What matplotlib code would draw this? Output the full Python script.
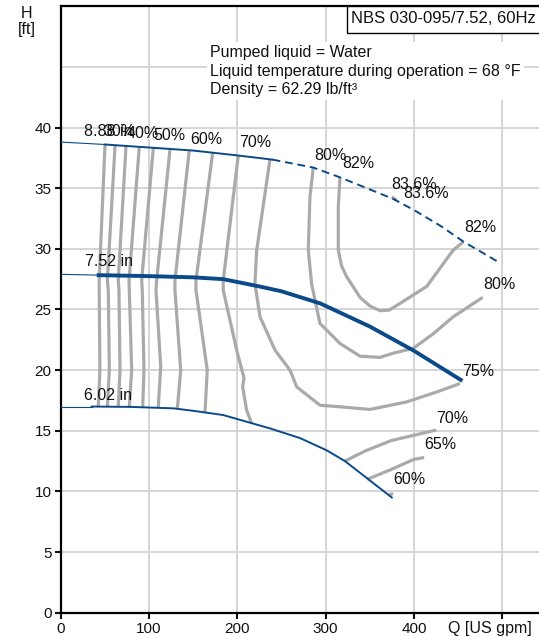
import matplotlib
matplotlib.use('Agg')
import matplotlib.pyplot as plt
from matplotlib.patches import Rectangle

plt.rcParams['font.family'] = ['Liberation Sans', 'DejaVu Sans']

# pump curves (Q in US gpm, H in ft)
q_888_thin = [0, 50]
h_888_thin = [38.8, 38.6]
q_888 = [50, 100, 150, 200, 240]
h_888 = [38.6, 38.35, 38.1, 37.7, 37.35]
q_888_dash = [240, 286, 316, 350, 377, 400, 430, 456, 496]
h_888_dash = [37.35, 36.7, 35.9, 34.9, 34.1, 33.2, 31.9, 30.6, 28.9]

q_752_thin = [0, 43]
h_752_thin = [27.9, 27.83]
q_752 = [43, 100, 150, 184, 225, 250, 294, 350, 400, 453]
h_752 = [27.83, 27.75, 27.65, 27.5, 26.9, 26.5, 25.5, 23.6, 21.6, 19.2]

q_602_thin = [0, 35]
h_602_thin = [17.0, 17.0]
q_602 = [35, 80, 128, 150, 184, 237, 271, 301, 322, 345, 375]
h_602 = [17.0, 16.97, 16.85, 16.65, 16.3, 15.2, 14.4, 13.4, 12.5, 11.2, 9.5]

# iso-efficiency lines
eta_lines = {
    '30': ([50.2, 43.6, 43.6, 44.4, 42.6], [38.6, 27.4, 26.6, 20.0, 17.0]),
    '35': ([61.6, 52.9, 53.9, 55.1, 52.9], [38.55, 27.4, 26.6, 20.0, 17.0]),
    '40': ([74.0, 65.2, 66.0, 67.2, 65.2], [38.5, 27.4, 26.6, 20.0, 17.0]),
    '45': ([89.0, 77.4, 77.7, 80.4, 77.7], [38.4, 27.4, 26.6, 20.0, 16.95]),
    '50': ([104.9, 91.7, 92.4, 94.3, 92.9], [38.3, 27.4, 26.6, 20.0, 16.9]),
    '55': ([123.8, 108.7, 107.9, 113.3, 110.5], [38.2, 27.4, 26.6, 20.3, 16.9]),
    '60': ([145.6, 129.4, 129.4, 135.9, 132.1], [38.1, 27.4, 26.6, 20.0, 16.8]),
    '65': ([172.1, 153.2, 153.2, 166.0, 163.4], [37.9, 27.4, 26.6, 20.0, 16.5]),
    '70': ([201.1, 184.1, 184.1, 199.3, 207.6, 206.1, 210.6, 216.3],
           [37.7, 27.4, 26.6, 21.65, 19.36, 18.6, 16.7, 15.6]),
    '75': ([237.0, 222.0, 220.0, 225.7, 242.7, 259.7, 267.3, 293.6, 316.3, 350.2, 391.8, 425.8, 452.2],
           [37.35, 29.9, 27.14, 24.4, 21.65, 20.0, 18.62, 17.11, 16.98, 16.76, 17.38, 18.2, 18.9]),
    '80': ([286.0, 282.3, 280.4, 284.2, 293.6, 301.2, 316.3, 339.0, 361.6, 376.7, 399.3, 422.0, 444.6, 478.0],
           [36.67, 34.3, 29.9, 27.1, 23.85, 23.3, 22.2, 21.15, 21.05, 21.4, 21.8, 23.0, 24.4, 26.0]),
    '82': ([316.3, 314.4, 314.4, 318.0, 323.9, 339.0, 350.0, 361.6, 372.0, 384.3, 414.5, 444.6, 456.0],
           [35.9, 33.45, 29.9, 28.6, 27.7, 26.0, 25.3, 24.9, 24.95, 25.5, 26.9, 29.9, 30.57]),
    '83.6': ([374.9, 380.5], [34.28, 34.0]),
    '70r': ([321.7, 345.2, 374.5, 425.3], [12.5, 13.35, 14.2, 15.06]),
    '65r': ([347.1, 372.6, 399.9, 411.6], [11.0, 11.76, 12.64, 12.8]),
    '60r': ([371.5, 376.4], [9.7, 9.84]),
}

labels = [
    ('8.88 in', 26.5, 39.63), ('30%', 48.0, 39.63), ('40%', 75.1, 39.5),
    ('50%', 104.5, 39.3), ('60%', 146.4, 39.0), ('70%', 201.9, 38.76),
    ('80%', 286.8, 37.71), ('82%', 318.5, 37.03), ('83.6%', 374.9, 35.32),
    ('83.6%', 388.0, 34.6), ('82%', 456.7, 31.72), ('80%', 478.6, 27.09),
    ('75%', 454.1, 19.86), ('70%', 425.0, 16.0), ('65%', 411.4, 13.9),
    ('60%', 376.3, 10.96), ('7.52 in', 27.5, 28.92), ('6.02 in', 26.4, 17.93),
]

x_ticks = [0, 100, 200, 300, 400, 500]
x_ticklabels = ['0', '100', '200', '300', '400', '']
y_ticks = [0, 5, 10, 15, 20, 25, 30, 35, 40]

blue = '#0a4a8a'
gray = '#aaaaaa'
ink = '#111111'

fig = plt.figure(figsize=(5.39, 6.37), dpi=100)
ax = fig.add_axes([0.1126, 0.038, 0.8874, 0.9523])
ax.set_xlim(0, 541.7)
ax.set_ylim(0, 50)

ax.set_xticks(x_ticks)
ax.set_xticklabels(x_ticklabels)
ax.set_yticks(y_ticks)
ax.set_yticks([45], minor=True)
ax.grid(which='both', color='#d2d2d2', lw=1.3, zorder=0)
ax.set_axisbelow(True)
ax.tick_params(which='major', length=4.5, width=1.5, pad=2, labelsize=11, colors=ink)
ax.tick_params(which='minor', length=0)
for side in ['left', 'bottom', 'top']:
    ax.spines[side].set_linewidth(1.6)
ax.spines['right'].set_visible(False)

for name, (q, h) in eta_lines.items():
    ax.plot(q, h, color=gray, lw=2.3, solid_capstyle='butt', solid_joinstyle='round', zorder=2)

ax.plot(q_888_thin, h_888_thin, color=blue, lw=0.8, zorder=3)
ax.plot(q_888, h_888, color=blue, lw=1.4, zorder=3)
ax.plot(q_888_dash, h_888_dash, color=blue, lw=1.4, ls=(0, (4, 2.5)), zorder=3)
ax.plot(q_752_thin, h_752_thin, color=blue, lw=0.8, zorder=3)
ax.plot(q_752, h_752, color=blue, lw=2.8, solid_joinstyle='round', zorder=3)
ax.plot(q_602_thin, h_602_thin, color=blue, lw=0.8, zorder=3)
ax.plot(q_602, h_602, color=blue, lw=1.4, zorder=3)

for txt, q, h in labels:
    ax.text(q, h, txt, fontsize=11.5, ha='left', va='center', color=ink, zorder=4)

# info block
ax.text(0.312, 0.893, 'Pumped liquid = Water\nLiquid temperature during operation = 68 °F\nDensity = 62.29 lb/ft³',
        transform=ax.transAxes, fontsize=11.5, ha='left', va='center', linespacing=1.28,
        color=ink, zorder=5,
        bbox=dict(boxstyle='square,pad=0.2', fc='white', ec='none'))

# title box
ax.add_patch(Rectangle((0.598, 0.9553), 0.5, 0.0447, transform=ax.transAxes,
                       fc='white', ec='black', lw=1.0, clip_on=False, zorder=6))
ax.text(0.607, 0.980, 'NBS 030-095/7.52, 60Hz', transform=ax.transAxes,
        fontsize=12, ha='left', va='center', color=ink, zorder=7)

fig.text(0.0495, 0.990, 'H\n[ft]', fontsize=11.5, ha='center', va='top', linespacing=1.05, color=ink)
fig.text(0.831, 0.014, 'Q [US gpm]', fontsize=11.5, ha='left', va='center', color=ink)

fig.savefig('out.png', dpi=100)
